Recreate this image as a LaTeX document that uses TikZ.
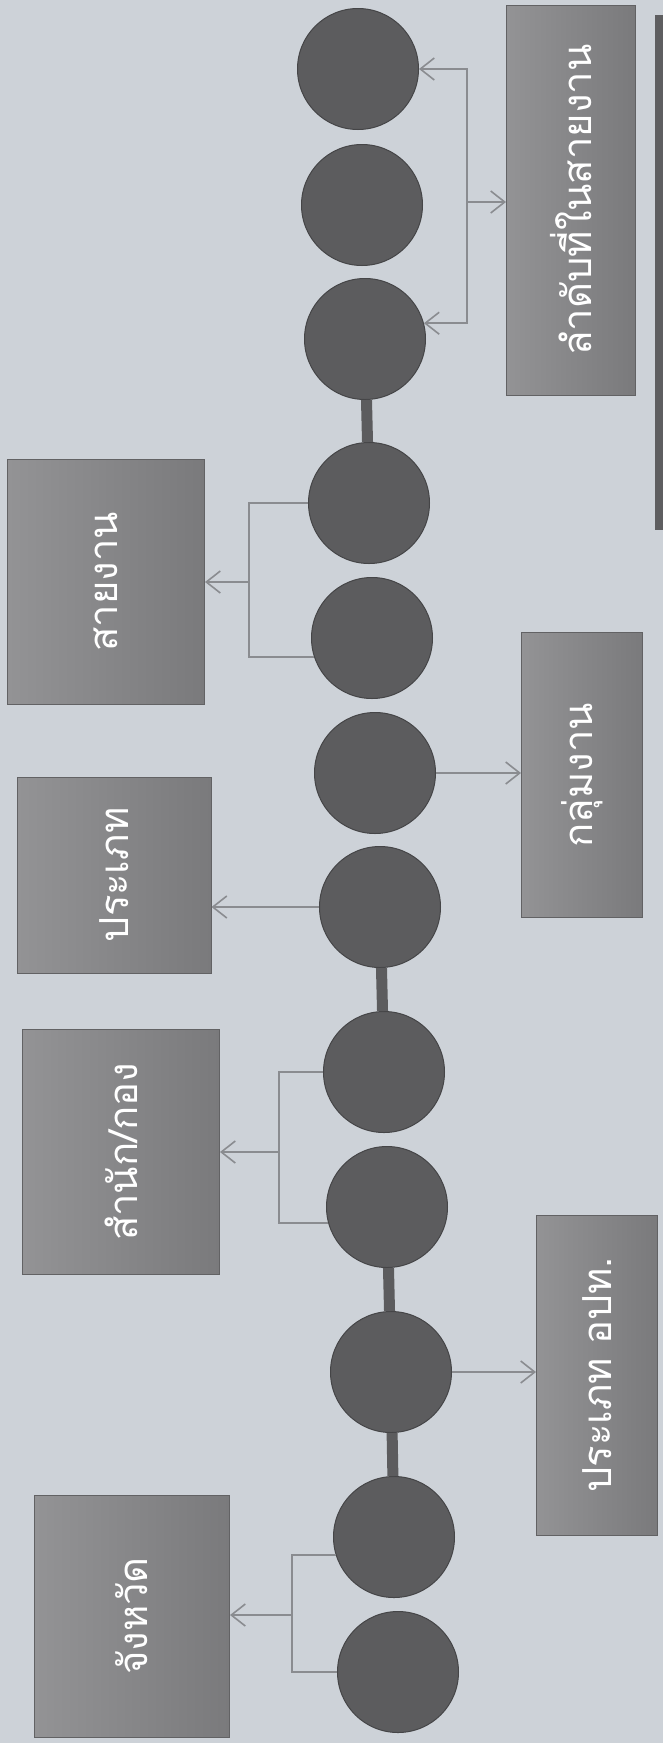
\documentclass[tikz,border=0pt]{standalone}
\usepackage{fontspec}
\newfontfamily\thaifont[Script=Thai]{Loma}
\usetikzlibrary{arrows.meta}

\definecolor{paper}{HTML}{CDD2D8}
\definecolor{ballgray}{HTML}{5C5C5E}
\definecolor{ballrim}{HTML}{454547}
\definecolor{cardlight}{HTML}{939395}
\definecolor{carddark}{HTML}{7A7A7C}
\definecolor{cardrim}{HTML}{626264}
\definecolor{linkgray}{HTML}{8A8C90}
\definecolor{edgegray}{HTML}{5E5E60}

\begin{document}
\begin{tikzpicture}[x=1pt, y=-1pt,
    >={Straight Barb[length=14pt, width=22pt]},
    ball/.style={circle, fill=ballgray, draw=ballrim, line width=1pt, minimum size=121pt, inner sep=0pt},
    card/.style={rectangle, left color=cardlight, right color=carddark, draw=cardrim, line width=1pt,
        inner sep=0pt, text=white, font=\thaifont\fontsize{40}{42}\selectfont},
    link/.style={draw=linkgray, line width=1.6pt},
    bar/.style={draw=ballgray, line width=11pt}]
    % Paper
    \fill[paper] (0,0) rectangle (663,1743);
    \useasboundingbox (0,0) rectangle (663,1743);
    \fill[edgegray] (655,15) rectangle (663,530); % dark edge of the scan

    % Balls, top to bottom
    \node[ball] (c1) at (358,69) {};
    \node[ball] (c2) at (362,205) {};
    \node[ball] (c3) at (365,339) {};
    \node[ball] (c4) at (369,503) {};
    \node[ball] (c5) at (372,638) {};
    \node[ball] (c6) at (375,773) {};
    \node[ball] (c7) at (380,907) {};
    \node[ball] (c8) at (384,1072) {};
    \node[ball] (c9) at (387,1207) {};
    \node[ball] (c10) at (391,1372) {};
    \node[ball] (c11) at (394,1537) {};
    \node[ball] (c12) at (398,1672) {};

    % Bars between groups
    \draw[bar] (c3) -- (c4);
    \draw[bar] (c7) -- (c8);
    \draw[bar] (c9) -- (c10);
    \draw[bar] (c10) -- (c11);

    % Cards on the right
    \node[card, minimum width=129pt, minimum height=390pt] (lamdap) at (571,200) {\rotatebox{90}{ลำดับที่ในสายงาน}};
    \node[card, minimum width=121pt, minimum height=285pt] (klumngan) at (582,775) {\rotatebox{90}{กลุ่มงาน}};
    \node[card, minimum width=121pt, minimum height=320pt] (opt) at (597,1375) {\rotatebox{90}{ประเภท อปท.}};

    % Cards on the left
    \node[card, minimum width=197pt, minimum height=245pt] (sayngan) at (106,582) {\rotatebox{90}{สายงาน}};
    \node[card, minimum width=194pt, minimum height=196pt] (prapet) at (114,875) {\rotatebox{90}{ประเภท}};
    \node[card, minimum width=197pt, minimum height=245pt] (samnak) at (121,1152) {\rotatebox{90}{สำนัก/กอง}};
    \node[card, minimum width=195pt, minimum height=242pt] (changwat) at (132,1616) {\rotatebox{90}{จังหวัด}};

    % Joints of the brackets
    \coordinate (j1) at (467,202);
    \coordinate (j2) at (249,582);
    \coordinate (j3) at (279,1152);
    \coordinate (j4) at (292,1615);

    % Links
    \draw[link, ->] (j1) -- (j1 -| lamdap.west);
    \draw[link, ->] (j1) |- (c1.east);
    \draw[link, ->] (j1) |- (c3.15);
    \draw[link] (c4.west) -| (j2);
    \draw[link] (c5.198) -| (j2);
    \draw[link, ->] (j2) -- (j2 -| sayngan.east);
    \draw[link, ->] (c6.east) -- (c6.east -| klumngan.west);
    \draw[link, ->] (c7.west) -- (c7.west -| prapet.east);
    \draw[link] (c8.west) -| (j3);
    \draw[link] (c9.195) -| (j3);
    \draw[link, ->] (j3) -- (j3 -| samnak.east);
    \draw[link, ->] (c10.east) -- (c10.east -| opt.west);
    \draw[link] (c11.197) -| (j4);
    \draw[link] (c12.west) -| (j4);
    \draw[link, ->] (j4) -- (j4 -| changwat.east);
\end{tikzpicture}
\end{document}
